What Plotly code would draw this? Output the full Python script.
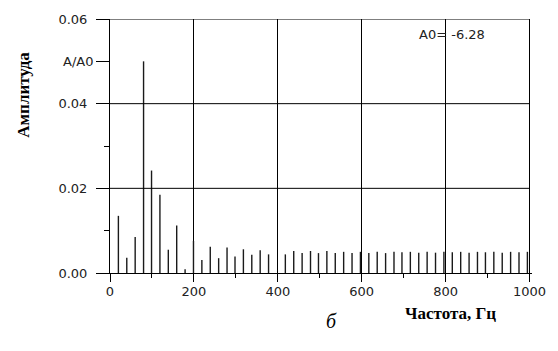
import plotly.graph_objects as go

# Harmonic frequencies (Hz) and relative amplitudes A/A0
freqs = [20, 40, 60, 80, 99, 119, 139, 159, 179, 199,
         219, 239, 259, 279, 298, 318, 338, 358, 378,
         418, 438, 458, 478, 497, 517, 537, 557, 577, 597,
         617, 637, 657, 677, 696, 716, 736, 756, 776, 796,
         816, 836, 856, 876, 895, 915, 935, 955, 975, 995]
amps = [0.0135, 0.0036, 0.0085, 0.0500, 0.0242, 0.0185, 0.0055, 0.0112, 0.0009, 0.0076,
        0.0031, 0.0062, 0.0035, 0.0060, 0.0039, 0.0056, 0.0043, 0.0054, 0.0044,
        0.0044, 0.0052, 0.0047, 0.0052, 0.0047, 0.0052, 0.0047, 0.0050, 0.0047, 0.0050,
        0.0047, 0.0050, 0.0047, 0.0050, 0.0049, 0.0050, 0.0048, 0.0050, 0.0048, 0.0050,
        0.0049, 0.0050, 0.0048, 0.0050, 0.0049, 0.0050, 0.0048, 0.0050, 0.0049, 0.0050]

y_tickvals = [0.0, 0.02, 0.04, 0.05, 0.06]
y_ticktext = ["0.00", "0.02", "0.04", "", "0.06"]
y_minor = [0.01, 0.03]
y_grid = [0.02, 0.04, 0.06]

xs, ys = [], []
for f, a in zip(freqs, amps):
    xs += [f, f, None]
    ys += [0, a, None]

fig = go.Figure()
fig.add_trace(go.Scatter(x=xs, y=ys, mode="lines",
                         line=dict(color="#1a1a1a", width=1.4),
                         hoverinfo="skip", showlegend=False))

tickfont = dict(family="DejaVu Sans", size=13, color="#222")

fig.update_layout(
    width=558, height=351,
    margin=dict(l=110, r=18, t=15, b=78),
    paper_bgcolor="white", plot_bgcolor="white",
    showlegend=False,
    xaxis=dict(range=[0, 1006], tick0=0, dtick=200,
               showline=True, linecolor="black", linewidth=1,
               ticks="outside", ticklen=8, tickcolor="black", tickwidth=1,
               showgrid=True, gridcolor="black", gridwidth=1,
               zeroline=False, tickfont=tickfont, ticklabelstandoff=-2,
               minor=dict(dtick=100, tick0=0, ticks="outside", ticklen=4,
                          tickcolor="black", showgrid=False)),
    yaxis=dict(range=[0, 0.06], tickmode="array", tickvals=y_tickvals, ticktext=y_ticktext,
               showline=True, linecolor="black", linewidth=1,
               ticks="outside", ticklen=13, tickcolor="black", tickwidth=1,
               showgrid=False, zeroline=False, tickfont=tickfont, ticklabelstandoff=6,
               minor=dict(tickmode="array", tickvals=y_minor, ticks="outside", ticklen=5,
                          tickcolor="black", showgrid=False)),
)

for g in y_grid:
    fig.add_shape(type="line", xref="x", yref="y", x0=0, x1=1000, y0=g, y1=g,
                  line=dict(color="black", width=1), layer="above")

fig.add_annotation(text="A/A0", xref="paper", yref="y", x=-0.035, y=0.05,
                   xanchor="right", yanchor="middle", showarrow=False, font=tickfont)
fig.add_annotation(text="A0= -6.28", xref="paper", yref="paper", x=0.7286, y=0.94,
                   xanchor="left", yanchor="middle", showarrow=False,
                   font=dict(family="DejaVu Sans", size=13, color="#222"))
fig.add_annotation(text="<b>Амплитуда</b>", xref="paper", yref="paper", x=-0.2048, y=0.70,
                   xanchor="center", yanchor="middle", textangle=-90, showarrow=False,
                   font=dict(family="Liberation Serif", size=17, color="black"))
fig.add_annotation(text="<b>Частота, Гц</b>", xref="paper", yref="paper", x=0.9195, y=-0.16,
                   xanchor="right", yanchor="middle", showarrow=False,
                   font=dict(family="Liberation Serif", size=17, color="black"))
fig.add_annotation(text="<i>б</i>", xref="paper", yref="paper", x=0.526, y=-0.19,
                   xanchor="center", yanchor="middle", showarrow=False,
                   font=dict(family="Liberation Serif", size=20, color="black"))

fig.write_html("out.html")
